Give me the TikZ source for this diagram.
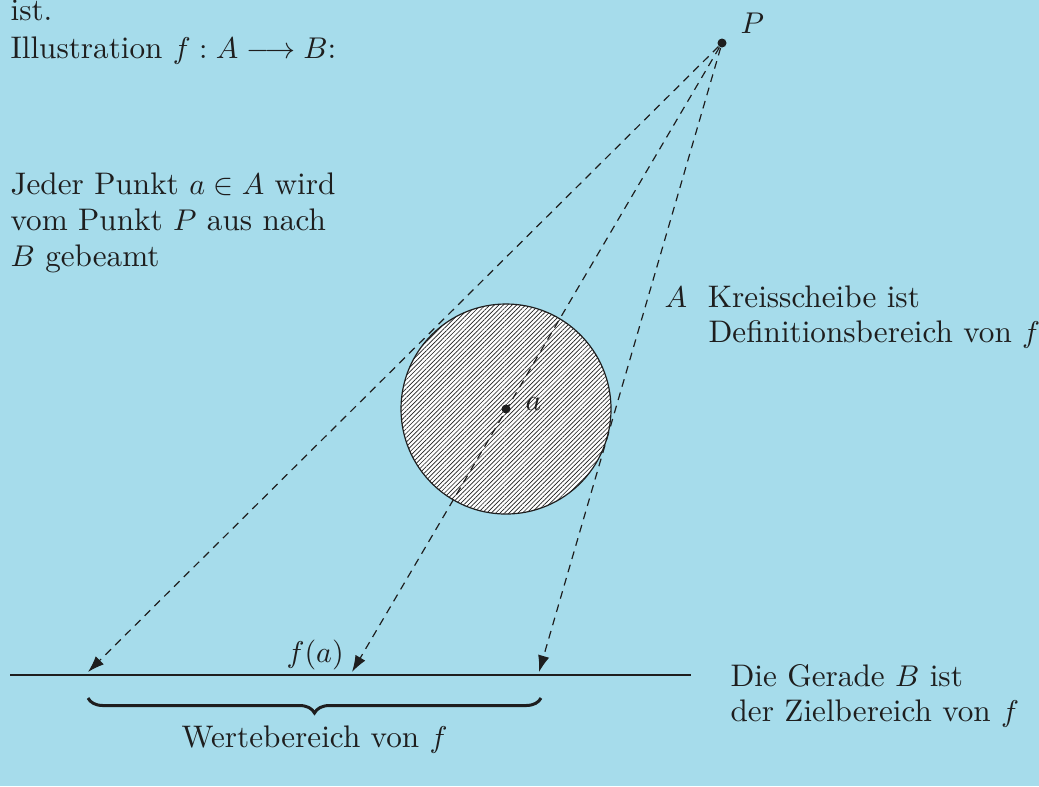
\documentclass[tikz,border=0pt]{standalone}
\usetikzlibrary{arrows.meta,patterns.meta,decorations.pathreplacing}
\definecolor{bg}{RGB}{166,220,235}
\definecolor{ink}{RGB}{30,30,30}
\tikzset{
  txt/.style={anchor=base west,inner sep=0pt,text=ink,font=\fontsize{10.4pt}{12.5pt}\selectfont},
  beam/.style={draw=ink,line width=0.4pt,dash pattern=on 2.6pt off 2pt,-{Latex[length=5.5pt,width=3.8pt]}},
  pt/.style={circle,fill=ink,inner sep=0pt,minimum size=3pt},
}
\begin{document}
\begin{tikzpicture}[x=0.33333pt,y=-0.33333pt]
\fill[bg] (0,0) rectangle (1039,786);
\useasboundingbox (0,0) rectangle (1039,786);
% texts
\node[txt] (t0) at (10,20) {ist.};
\node[txt] (t1) at (10,58) {Illustration $f:A\longrightarrow B$:};
\node[txt] (j1) at (10,194) {Jeder Punkt $a\in A$ wird};
\node[txt] (j2) at (10,230) {vom Punkt $P$ aus nach};
\node[txt] (j3) at (10,266) {$B$ gebeamt};
\node[txt] (k1) at (664,307) {$A$\ \ Kreisscheibe ist};
\node[txt] (k2) at (708,342) {Definitionsbereich von $f$};
\node[txt] (g1) at (730,686) {Die Gerade $B$ ist};
\node[txt] (g2) at (730,721) {der Zielbereich von $f$};
% disc
\fill[white] (506,409) circle[radius=105];
\draw[ink,line width=0.4pt,pattern={Lines[angle=45,distance=1.05pt,line width=0.22pt]},pattern color=ink] (506,409) circle[radius=105];
\node[pt] (a) at (506,409) {};
\node[txt] (al) at (525,410) {$a$};
% P
\node[pt] (P) at (722,43) {};
\node[txt] (Pl) at (740,33) {$P$};
% line B
\coordinate (B0) at (10,675);
\coordinate (B1) at (691,675);
\draw[ink,line width=0.6pt] (B0) -- (B1);
\coordinate (e1) at (88,672);
\coordinate (e2) at (352,672);
\coordinate (e3) at (539,672);
\draw[beam] (P) -- (e1);
\draw[beam] (P) -- (e2);
\draw[beam] (P) -- (e3);
\node[txt] (fa) at (286,662) {$f(a)$};
% brace
\coordinate (br0) at (88,698);
\coordinate (br1) at (541,698);
\draw[ink,line width=1pt,decorate,decoration={brace,mirror,amplitude=5pt}] (br0) -- (br1);
\node[txt] (wb) at (181,747) {Wertebereich von $f$};
\end{tikzpicture}
\end{document}
